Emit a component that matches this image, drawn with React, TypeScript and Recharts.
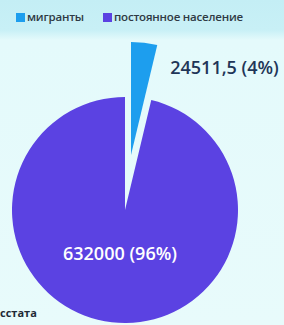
import { Cell, Pie, PieChart } from "recharts";

const CATEGORIES = ["постоянное население", "мигранты"];
const VALUES = [632000, 24511.5];
const PERCENTS = ["96%", "4%"];
const VALUE_LABELS = ["632000", "24511,5"];
const COLORS = ["#5b42e2", "#1d9eee"];
const SOURCE = "сстата";

const data = CATEGORIES.map((name, i) => ({ name, value: VALUES[i] }));

const FONT = "'Open Sans', sans-serif";

function renderLabel(props: any) {
  const { cx, cy, midAngle, outerRadius, index } = props;
  const rad = (-midAngle * Math.PI) / 180;
  if (index === 0) {
    const r = outerRadius * 0.38;
    return (
      <text
        x={cx + r * Math.cos(rad)}
        y={cy + r * Math.sin(rad)}
        fill="#ffffff"
        fontFamily={FONT}
        fontWeight={600}
        fontSize={18}
        textAnchor="middle"
        dominantBaseline="central"
      >
        {`${VALUE_LABELS[0]} (${PERCENTS[0]})`}
      </text>
    );
  }
  return null;
}

function renderMigrantLabel(props: any) {
  const { cx, cy, midAngle, outerRadius, index } = props;
  if (index !== 1) return null;
  const rad = (-midAngle * Math.PI) / 180;
  const ox = cx + outerRadius * Math.cos(rad);
  const oy = cy + outerRadius * Math.sin(rad);
  return (
    <text
      x={ox + 26}
      y={oy + 24}
      fill="#1f3658"
      fontFamily={FONT}
      fontWeight={600}
      fontSize={18}
      textAnchor="start"
      dominantBaseline="central"
    >
      {`${VALUE_LABELS[1]} (${PERCENTS[1]})`}
    </text>
  );
}

function LegendContent() {
  const order = [1, 0];
  return (
    <div
      style={{
        position: "absolute",
        top: 10,
        left: 16,
        display: "flex",
        gap: 19,
        fontFamily: FONT,
        fontSize: 11.5,
        fontWeight: 600,
        color: "#2f3a44",
        lineHeight: "14px",
        letterSpacing: -0.2,
      }}
    >
      {order.map((i) => (
        <span key={i} style={{ display: "flex", alignItems: "center", gap: 2 }}>
          <span style={{ width: 9, height: 9, background: COLORS[i], display: "inline-block" }} />
          {CATEGORIES[i]}
        </span>
      ))}
    </div>
  );
}

export default function App() {
  return (
    <div
      style={{
        position: "fixed",
        left: 0,
        top: 0,
        width: 284,
        height: 325,
        background: "linear-gradient(180deg, #c4eef5 0px, #c8f0f6 30px, #e4fafb 40px, #e8fbfb 100%)",
        overflow: "hidden",
      }}
    >
      <PieChart width={284} height={325} margin={{ top: 0, right: 0, bottom: 0, left: 0 }}>
        <Pie
          data={data}
          dataKey="value"
          nameKey="name"
          cx={125}
          cy={210}
          outerRadius={113}
          startAngle={90}
          endAngle={450}
          stroke="none"
          labelLine={false}
          label={renderLabel}
          isAnimationActive={false}
        >
          {data.map((_, i) => (
            <Cell key={i} fill={i === 0 ? COLORS[0] : "transparent"} />
          ))}
        </Pie>
        <Pie
          data={data}
          dataKey="value"
          nameKey="name"
          cx={131}
          cy={155}
          outerRadius={113}
          startAngle={90}
          endAngle={450}
          stroke="none"
          labelLine={false}
          label={renderMigrantLabel}
          isAnimationActive={false}
        >
          {data.map((_, i) => (
            <Cell key={i} fill={i === 1 ? COLORS[1] : "transparent"} />
          ))}
        </Pie>
        <text x={0} y={312} fill="#1f2a36" fontFamily={FONT} fontWeight={700} fontSize={11} dominantBaseline="central">
          {SOURCE}
        </text>
      </PieChart>
      <LegendContent />
    </div>
  );
}
